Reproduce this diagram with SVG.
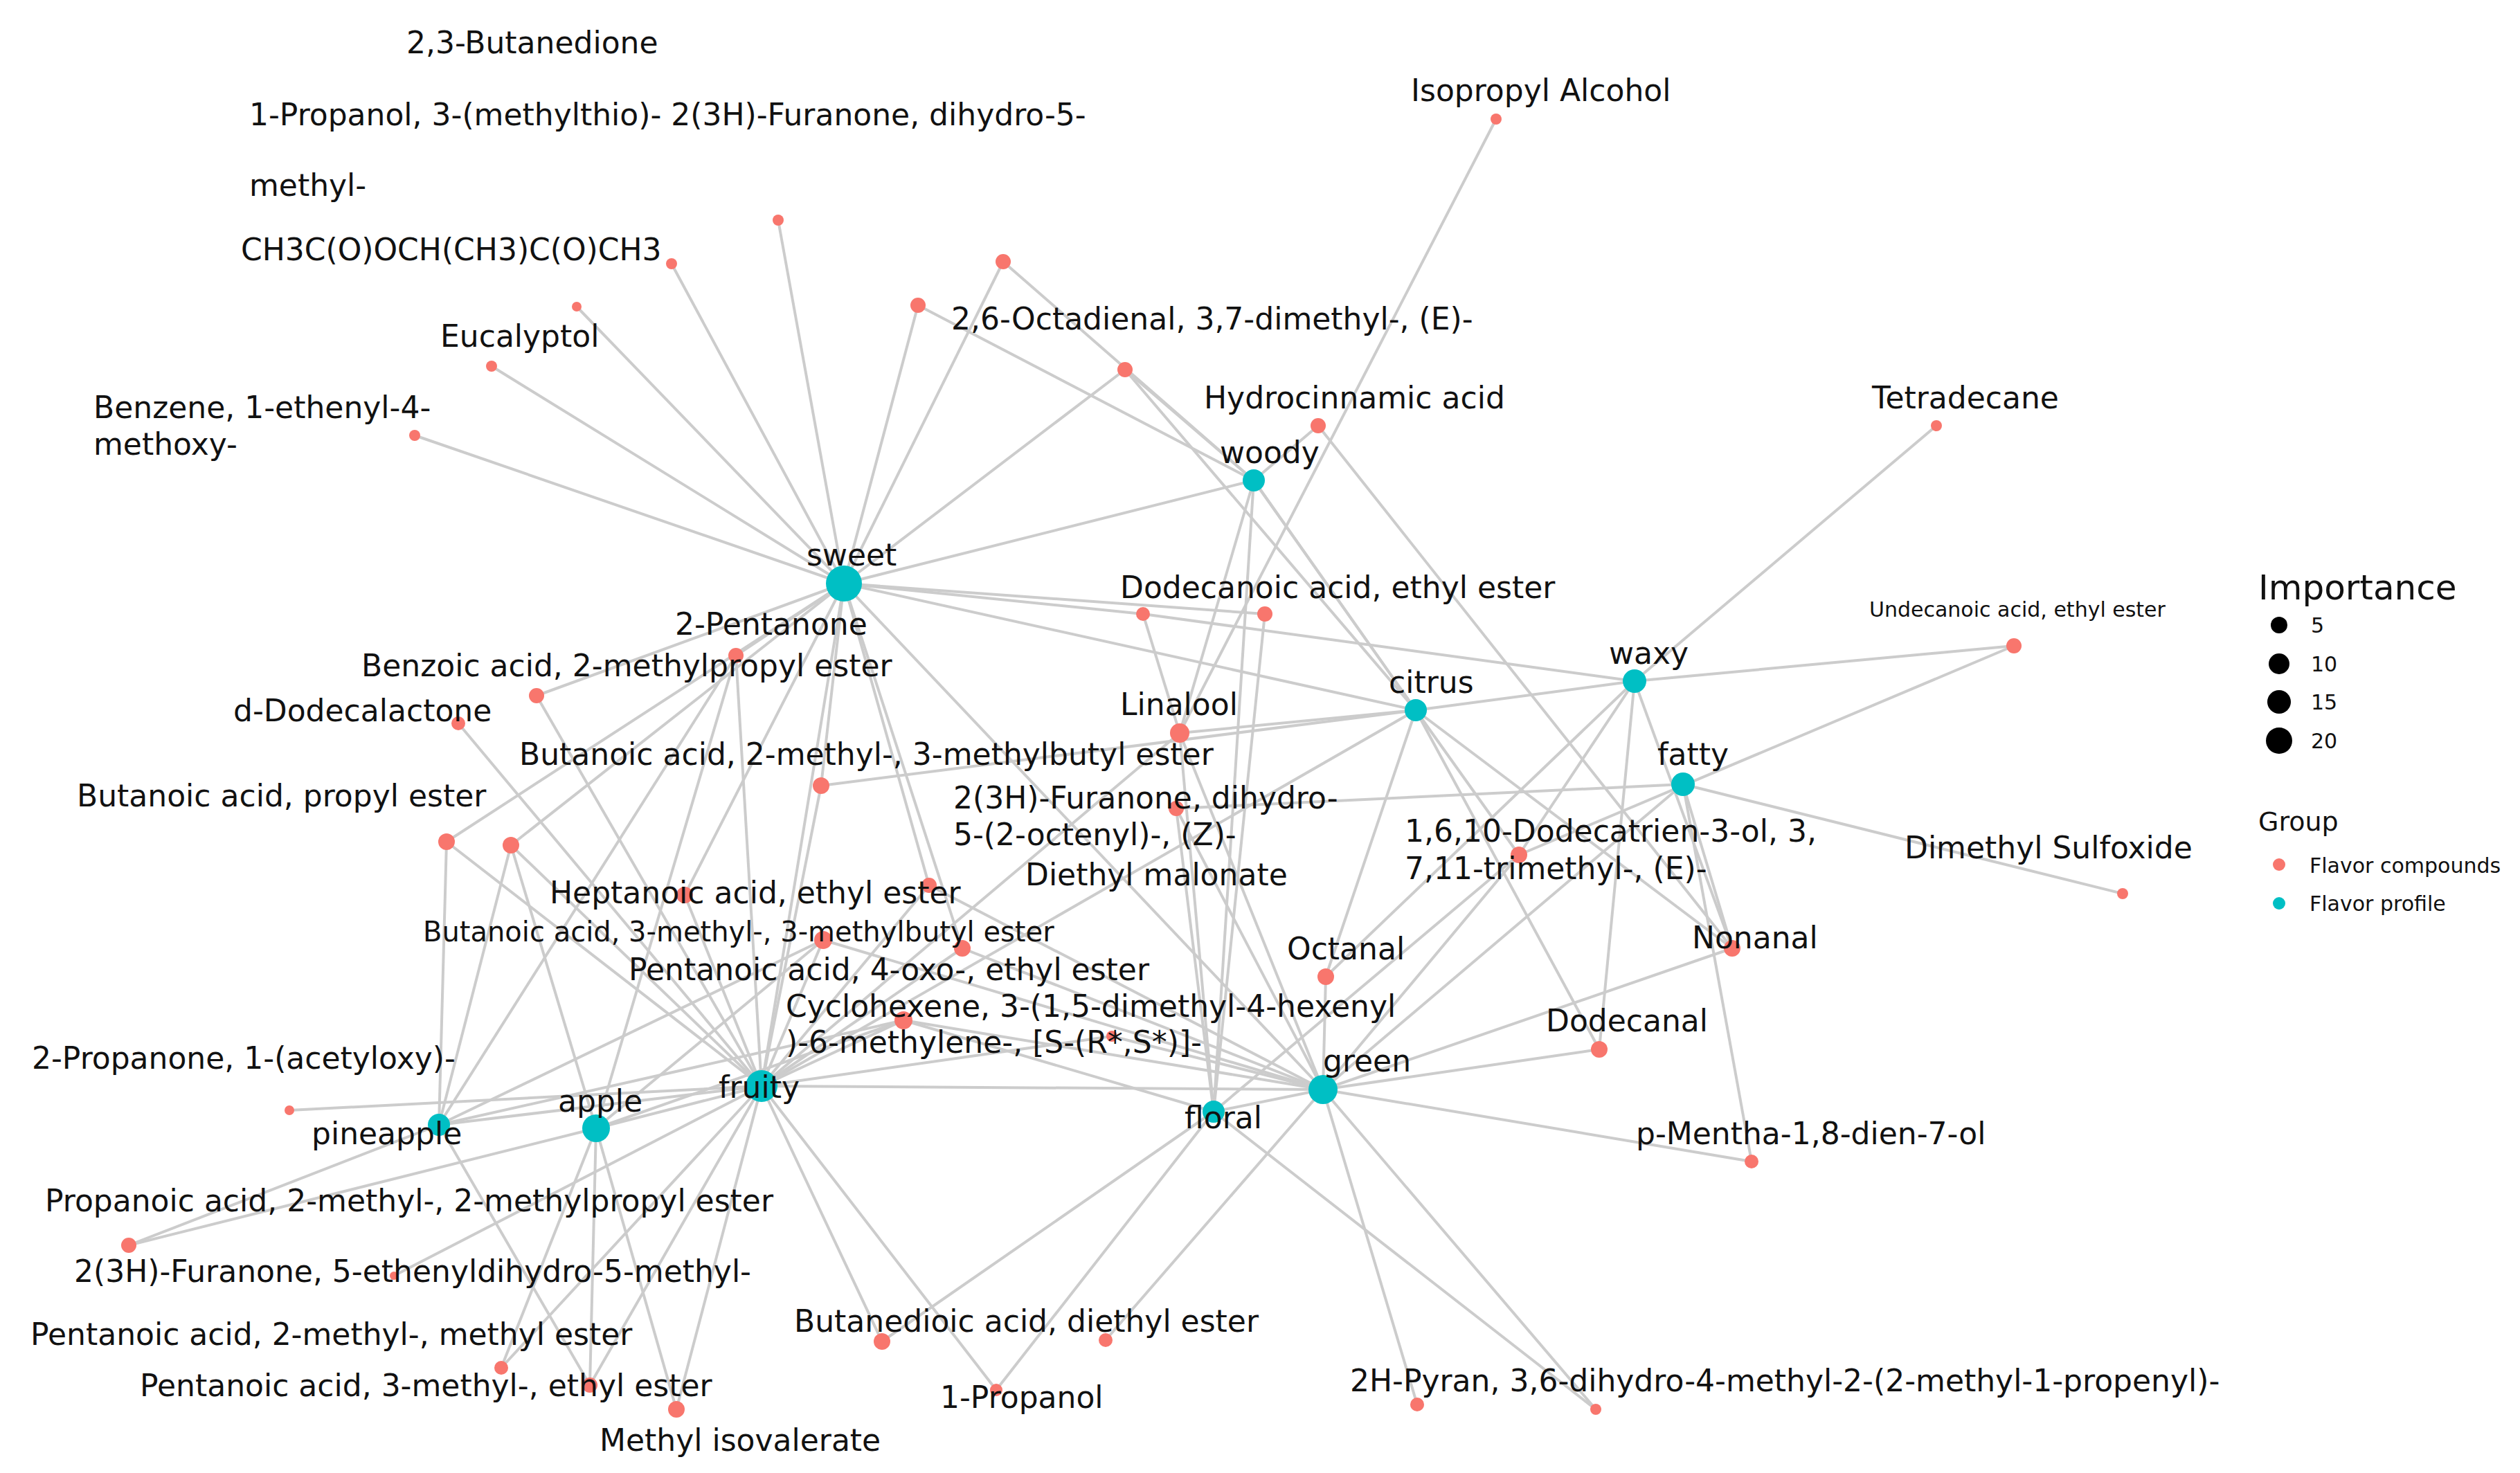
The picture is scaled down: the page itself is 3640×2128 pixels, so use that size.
<svg xmlns="http://www.w3.org/2000/svg" width="3640" height="2128" viewBox="0 0 3640 2128">
<style>
.e line{stroke:#cccccc;stroke-width:4}
.p{fill:#00bfc4}
.c{fill:#f8766d}
text{font-family:"DejaVu Sans","Liberation Sans",sans-serif;font-size:44px;fill:#111}
.s{font-size:40px}
.lg{font-size:30px}
</style>
<rect width="3640" height="2128" fill="#fff"/>
<g class="e">
<line x1="1219" y1="843" x2="1124" y2="318"/><line x1="1219" y1="843" x2="970" y2="381"/><line x1="1219" y1="843" x2="833" y2="443"/><line x1="1219" y1="843" x2="710" y2="529"/><line x1="1219" y1="843" x2="599" y2="629"/><line x1="1219" y1="843" x2="1326" y2="441"/><line x1="1219" y1="843" x2="1449" y2="378"/><line x1="1219" y1="843" x2="1625" y2="534"/><line x1="1219" y1="843" x2="1811" y2="694"/><line x1="1219" y1="843" x2="1651" y2="887"/><line x1="1219" y1="843" x2="1827" y2="887"/><line x1="1219" y1="843" x2="2045" y2="1026"/><line x1="1219" y1="843" x2="1063" y2="947"/><line x1="1219" y1="843" x2="775" y2="1005"/><line x1="1219" y1="843" x2="645" y2="1216"/><line x1="1219" y1="843" x2="738" y2="1221"/><line x1="1219" y1="843" x2="1100" y2="1569"/><line x1="1219" y1="843" x2="1186" y2="1135"/><line x1="1219" y1="843" x2="1342" y2="1279"/><line x1="1219" y1="843" x2="1390" y2="1370"/><line x1="1219" y1="843" x2="1911" y2="1574"/><line x1="1219" y1="843" x2="989" y2="1293"/>
<line x1="1449" y1="378" x2="1811" y2="694"/><line x1="1326" y1="441" x2="1811" y2="694"/><line x1="1625" y1="534" x2="1811" y2="694"/><line x1="1625" y1="534" x2="2045" y2="1026"/>
<line x1="2161" y1="172" x2="1704" y2="1059"/><line x1="1904" y1="615" x2="1811" y2="694"/><line x1="1904" y1="615" x2="2502" y2="1370"/>
<line x1="2797" y1="615" x2="2361" y2="984"/><line x1="2909" y1="933" x2="2361" y2="984"/><line x1="2909" y1="933" x2="2194" y2="1235"/>
<line x1="1651" y1="887" x2="2361" y2="984"/><line x1="1651" y1="887" x2="1704" y2="1059"/><line x1="1827" y1="887" x2="1753" y2="1606"/>
<line x1="2361" y1="984" x2="2194" y2="1235"/><line x1="2361" y1="984" x2="2502" y2="1370"/><line x1="2361" y1="984" x2="1915" y2="1411"/><line x1="2361" y1="984" x2="2310" y2="1516"/><line x1="2361" y1="984" x2="2045" y2="1026"/>
<line x1="2045" y1="1026" x2="1704" y2="1059"/><line x1="2045" y1="1026" x2="1811" y2="694"/><line x1="2045" y1="1026" x2="2194" y2="1235"/><line x1="2045" y1="1026" x2="2310" y2="1516"/><line x1="2045" y1="1026" x2="1915" y2="1411"/><line x1="2045" y1="1026" x2="1100" y2="1569"/><line x1="2045" y1="1026" x2="2502" y2="1370"/>
<line x1="2431" y1="1133" x2="3066" y2="1291"/><line x1="2431" y1="1133" x2="1699" y2="1168"/><line x1="2431" y1="1133" x2="2530" y2="1678"/><line x1="2431" y1="1133" x2="2502" y2="1370"/><line x1="2431" y1="1133" x2="1911" y2="1574"/>
<line x1="1704" y1="1059" x2="1100" y2="1569"/><line x1="1704" y1="1059" x2="1753" y2="1606"/><line x1="1704" y1="1059" x2="1911" y2="1574"/><line x1="1186" y1="1135" x2="2045" y2="1026"/>
<line x1="1811" y1="694" x2="1753" y2="1606"/><line x1="1811" y1="694" x2="1704" y2="1059"/><line x1="1811" y1="694" x2="2045" y2="1026"/>
<line x1="1911" y1="1574" x2="1915" y2="1411"/><line x1="1911" y1="1574" x2="2310" y2="1516"/><line x1="1911" y1="1574" x2="2502" y2="1370"/><line x1="1911" y1="1574" x2="2530" y2="1678"/><line x1="1911" y1="1574" x2="2047" y2="2029"/><line x1="1911" y1="1574" x2="2305" y2="2036"/><line x1="1911" y1="1574" x2="2194" y2="1235"/><line x1="1911" y1="1574" x2="1100" y2="1569"/><line x1="1911" y1="1574" x2="1753" y2="1606"/><line x1="1911" y1="1574" x2="1305" y2="1474"/><line x1="1911" y1="1574" x2="1390" y2="1370"/><line x1="1911" y1="1574" x2="1342" y2="1279"/><line x1="1911" y1="1574" x2="1189" y2="1358"/><line x1="1911" y1="1574" x2="1606" y2="1497"/><line x1="1911" y1="1574" x2="1597" y2="1936"/><line x1="1911" y1="1574" x2="1699" y2="1168"/>
<line x1="1753" y1="1606" x2="2194" y2="1235"/><line x1="1753" y1="1606" x2="1274" y2="1938"/><line x1="1753" y1="1606" x2="1439" y2="2008"/><line x1="1753" y1="1606" x2="2305" y2="2036"/><line x1="1753" y1="1606" x2="1305" y2="1474"/><line x1="1753" y1="1606" x2="1699" y2="1168"/>
<line x1="1100" y1="1569" x2="861" y2="1630"/><line x1="1100" y1="1569" x2="634" y2="1625"/><line x1="1100" y1="1569" x2="418" y2="1604"/><line x1="1100" y1="1569" x2="569" y2="1843"/><line x1="1100" y1="1569" x2="724" y2="1976"/><line x1="1100" y1="1569" x2="852" y2="2001"/><line x1="1100" y1="1569" x2="977" y2="2036"/><line x1="1100" y1="1569" x2="1274" y2="1938"/><line x1="1100" y1="1569" x2="1439" y2="2008"/><line x1="1100" y1="1569" x2="1305" y2="1474"/><line x1="1100" y1="1569" x2="1189" y2="1358"/><line x1="1100" y1="1569" x2="989" y2="1293"/><line x1="1100" y1="1569" x2="645" y2="1216"/><line x1="1100" y1="1569" x2="738" y2="1221"/><line x1="1100" y1="1569" x2="1063" y2="947"/><line x1="1100" y1="1569" x2="775" y2="1005"/><line x1="1100" y1="1569" x2="662" y2="1045"/><line x1="1100" y1="1569" x2="1186" y2="1135"/><line x1="1100" y1="1569" x2="1342" y2="1279"/><line x1="1100" y1="1569" x2="1390" y2="1370"/><line x1="1100" y1="1569" x2="1606" y2="1497"/>
<line x1="861" y1="1630" x2="186" y2="1799"/><line x1="861" y1="1630" x2="738" y2="1221"/><line x1="861" y1="1630" x2="852" y2="2001"/><line x1="861" y1="1630" x2="977" y2="2036"/><line x1="861" y1="1630" x2="724" y2="1976"/><line x1="861" y1="1630" x2="1305" y2="1474"/><line x1="861" y1="1630" x2="1189" y2="1358"/><line x1="861" y1="1630" x2="1063" y2="947"/>
<line x1="634" y1="1625" x2="645" y2="1216"/><line x1="634" y1="1625" x2="738" y2="1221"/><line x1="634" y1="1625" x2="186" y2="1799"/><line x1="634" y1="1625" x2="852" y2="2001"/><line x1="634" y1="1625" x2="1189" y2="1358"/><line x1="634" y1="1625" x2="1063" y2="947"/><line x1="634" y1="1625" x2="1305" y2="1474"/>
</g>
<g id="compounds">
<circle class="c" cx="1124" cy="318" r="8"/><circle class="c" cx="970" cy="381" r="8"/><circle class="c" cx="833" cy="443" r="7"/><circle class="c" cx="710" cy="529" r="8"/><circle class="c" cx="599" cy="629" r="8"/><circle class="c" cx="1326" cy="441" r="11"/><circle class="c" cx="1449" cy="378" r="11"/><circle class="c" cx="1625" cy="534" r="11"/><circle class="c" cx="2161" cy="172" r="8"/><circle class="c" cx="1904" cy="615" r="11"/><circle class="c" cx="2797" cy="615" r="8"/><circle class="c" cx="1651" cy="887" r="10"/><circle class="c" cx="1827" cy="887" r="11"/><circle class="c" cx="2909" cy="933" r="11"/><circle class="c" cx="1063" cy="947" r="11"/><circle class="c" cx="775" cy="1005" r="11"/><circle class="c" cx="662" cy="1045" r="10"/><circle class="c" cx="1704" cy="1059" r="14"/><circle class="c" cx="1186" cy="1135" r="12"/><circle class="c" cx="1699" cy="1168" r="11"/><circle class="c" cx="645" cy="1216" r="12"/><circle class="c" cx="738" cy="1221" r="12"/><circle class="c" cx="989" cy="1293" r="12"/><circle class="c" cx="1342" cy="1279" r="11"/><circle class="c" cx="1189" cy="1358" r="13"/><circle class="c" cx="1390" cy="1370" r="12"/><circle class="c" cx="1606" cy="1497" r="8"/><circle class="c" cx="1305" cy="1474" r="13"/><circle class="c" cx="2194" cy="1235" r="12"/><circle class="c" cx="1915" cy="1411" r="12"/><circle class="c" cx="2502" cy="1370" r="12"/><circle class="c" cx="2310" cy="1516" r="12"/><circle class="c" cx="3066" cy="1291" r="8"/><circle class="c" cx="2530" cy="1678" r="10"/><circle class="c" cx="418" cy="1604" r="7"/><circle class="c" cx="186" cy="1799" r="11"/><circle class="c" cx="569" cy="1843" r="6"/><circle class="c" cx="724" cy="1976" r="10"/><circle class="c" cx="852" cy="2001" r="11"/><circle class="c" cx="977" cy="2036" r="12"/><circle class="c" cx="1274" cy="1938" r="12"/><circle class="c" cx="1597" cy="1936" r="10"/><circle class="c" cx="1439" cy="2008" r="9"/><circle class="c" cx="2047" cy="2029" r="10"/><circle class="c" cx="2305" cy="2036" r="8"/>
</g>
<g id="profiles">
<circle id="sweet" class="p" cx="1219" cy="843" r="26"/><circle id="woody" class="p" cx="1811" cy="694" r="16"/><circle id="citrus" class="p" cx="2045" cy="1026" r="16"/><circle id="waxy" class="p" cx="2361" cy="984" r="17"/><circle id="fatty" class="p" cx="2431" cy="1133" r="17"/><circle id="green" class="p" cx="1911" cy="1574" r="21"/><circle id="floral" class="p" cx="1753" cy="1606" r="16"/><circle id="fruity" class="p" cx="1100" cy="1569" r="23"/><circle id="apple" class="p" cx="861" cy="1630" r="20"/><circle id="pineapple" class="p" cx="634" cy="1625" r="16"/>
</g>
<g id="labels">
<text x="587" y="77">2,3-Butanedione</text>
<text x="360" y="181">1-Propanol, 3-(methylthio)- 2(3H)-Furanone, dihydro-5-</text>
<text x="360" y="283">methyl-</text>
<text x="348" y="376">CH3C(O)OCH(CH3)C(O)CH3</text>
<text x="636" y="501">Eucalyptol</text>
<text x="135" y="604">Benzene, 1-ethenyl-4-</text>
<text x="135" y="657">methoxy-</text>
<text x="2038" y="146">Isopropyl Alcohol</text>
<text x="1374" y="476">2,6-Octadienal, 3,7-dimethyl-, (E)-</text>
<text x="1739" y="590">Hydrocinnamic acid</text>
<text x="2704" y="590">Tetradecane</text>
<text x="1762" y="669">woody</text>
<text x="1165" y="817">sweet</text>
<text x="1618" y="864">Dodecanoic acid, ethyl ester</text>
<text x="2700" y="891" class="lg">Undecanoic acid, ethyl ester</text>
<text x="975" y="917">2-Pentanone</text>
<text x="2324" y="959">waxy</text>
<text x="522" y="977">Benzoic acid, 2-methylpropyl ester</text>
<text x="2006" y="1001">citrus</text>
<text x="1618" y="1033">Linalool</text>
<text x="337" y="1042">d-Dodecalactone</text>
<text x="2394" y="1105">fatty</text>
<text x="750" y="1105">Butanoic acid, 2-methyl-, 3-methylbutyl ester</text>
<text x="1377" y="1168">2(3H)-Furanone, dihydro-</text>
<text x="111" y="1165">Butanoic acid, propyl ester</text>
<text x="2029" y="1216">1,6,10-Dodecatrien-3-ol, 3,</text>
<text x="2751" y="1240">Dimethyl Sulfoxide</text>
<text x="1377" y="1221">5-(2-octenyl)-, (Z)-</text>
<text x="1481" y="1279">Diethyl malonate</text>
<text x="2029" y="1270">7,11-trimethyl-, (E)-</text>
<text x="794" y="1305">Heptanoic acid, ethyl ester</text>
<text x="611" y="1360" class="s">Butanoic acid, 3-methyl-, 3-methylbutyl ester</text>
<text x="2444" y="1370">Nonanal</text>
<text x="1859" y="1386">Octanal</text>
<text x="908" y="1416">Pentanoic acid, 4-oxo-, ethyl ester</text>
<text x="1135" y="1469">Cyclohexene, 3-(1,5-dimethyl-4-hexenyl</text>
<text x="2233" y="1490">Dodecanal</text>
<text x="46" y="1544">2-Propanone, 1-(acetyloxy)-</text>
<text x="1135" y="1521">)-6-methylene-, [S-(R*,S*)]-</text>
<text x="1911" y="1548">green</text>
<text x="1038" y="1586">fruity</text>
<text x="806" y="1606">apple</text>
<text x="1711" y="1630">floral</text>
<text x="450" y="1653">pineapple</text>
<text x="2363" y="1653">p-Mentha-1,8-dien-7-ol</text>
<text x="65" y="1750">Propanoic acid, 2-methyl-, 2-methylpropyl ester</text>
<text x="107" y="1852">2(3H)-Furanone, 5-ethenyldihydro-5-methyl-</text>
<text x="44" y="1943">Pentanoic acid, 2-methyl-, methyl ester</text>
<text x="1147" y="1924">Butanedioic acid, diethyl ester</text>
<text x="202" y="2017">Pentanoic acid, 3-methyl-, ethyl ester</text>
<text x="1950" y="2010">2H-Pyran, 3,6-dihydro-4-methyl-2-(2-methyl-1-propenyl)-</text>
<text x="1358" y="2034">1-Propanol</text>
<text x="866" y="2096">Methyl isovalerate</text>
</g>
<g id="legend">
<text x="3262" y="866" style="font-size:50px">Importance</text>
<circle cx="3292" cy="903" r="12"/><text x="3338" y="914" class="lg">5</text>
<circle cx="3292" cy="959" r="15"/><text x="3338" y="970" class="lg">10</text>
<circle cx="3292" cy="1014" r="17"/><text x="3338" y="1025" class="lg">15</text>
<circle cx="3292" cy="1070" r="19"/><text x="3338" y="1081" class="lg">20</text>
<text x="3262" y="1200" style="font-size:38px">Group</text>
<circle class="c" cx="3292" cy="1249" r="9"/><text x="3336" y="1261" class="lg">Flavor compounds</text>
<circle class="p" cx="3292" cy="1305" r="9"/><text x="3336" y="1316" class="lg">Flavor profile</text>
</g>
</svg>
